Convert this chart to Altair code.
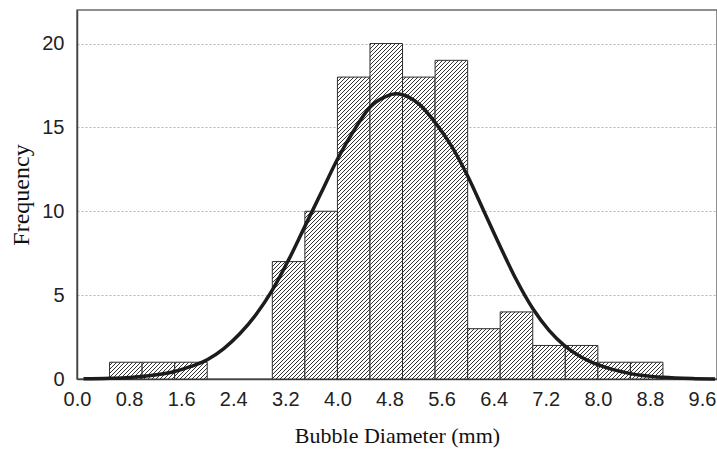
import altair as alt
import pandas as pd
import jinja2

# Histogram bins (mm) and frequencies
bin_start = [0.5, 1.0, 1.5, 3.0, 3.5, 4.0, 4.5, 5.0, 5.5, 6.0, 6.5, 7.0, 7.5, 8.0, 8.5]
bin_end = [1.0, 1.5, 2.0, 3.5, 4.0, 4.5, 5.0, 5.5, 6.0, 6.5, 7.0, 7.5, 8.0, 8.5, 9.0]
counts = [1, 1, 1, 7, 10, 18, 20, 18, 19, 3, 4, 2, 2, 1, 1]

# Fitted normal curve
curve_x = [0.1, 0.5, 0.75, 1.0, 1.25, 1.5, 1.75, 2.0, 2.25, 2.5, 2.75, 3.0, 3.25, 3.5,
           3.75, 4.0, 4.25, 4.5, 4.75, 4.9, 5.0, 5.25, 5.5, 5.75, 6.0, 6.25, 6.5, 6.75,
           7.0, 7.25, 7.5, 7.75, 8.0, 8.5, 9.0, 9.5, 9.8]
curve_y = [0.01, 0.04, 0.08, 0.15, 0.27, 0.45, 0.75, 1.15, 1.8, 2.7, 3.85, 5.3, 7.1, 9.1,
           11.1, 13.1, 14.8, 16.2, 16.85, 17.0, 16.95, 16.4, 15.3, 13.9, 12.1, 10.0, 7.9, 5.9,
           4.2, 2.9, 1.95, 1.3, 0.85, 0.32, 0.1, 0.02, 0.0]

x_ticks = [0.0, 0.8, 1.6, 2.4, 3.2, 4.0, 4.8, 5.6, 6.4, 7.2, 8.0, 8.8, 9.6]
y_ticks = [0, 5, 10, 15, 20]

bars_df = pd.DataFrame({"lo": bin_start, "hi": bin_end, "n": counts})
curve_df = pd.DataFrame({"x": curve_x, "y": curve_y})

xscale = alt.Scale(domain=[0, 9.83], nice=False, zero=False)
yscale = alt.Scale(domain=[0, 22], nice=False)

xaxis = alt.Axis(values=x_ticks, format=".1f", title="Bubble Diameter (mm)",
                 grid=False, ticks=False, labelPadding=10, titlePadding=16,
                 labelFlush=False, titleFontSize=22)
yaxis = alt.Axis(values=y_ticks, title="Frequency", grid=True, ticks=False,
                 labelPadding=13, titlePadding=8, labelFlush=False, titleFontSize=24)

bars = alt.Chart(bars_df).mark_rect(
    fill="url(#hatch)", stroke="#2e2e2e", strokeWidth=1
).encode(
    x=alt.X("lo:Q", scale=xscale, axis=xaxis),
    x2="hi:Q",
    y=alt.Y("n:Q", scale=yscale, axis=yaxis),
    y2=alt.datum(0),
)

curve = alt.Chart(curve_df).mark_line(
    color="#1c1c1c", strokeWidth=3.5, interpolate="monotone"
).encode(
    x=alt.X("x:Q", scale=xscale),
    y=alt.Y("y:Q", scale=yscale),
)

chart = alt.layer(bars, curve).properties(
    width=640, height=369,
    autosize=alt.AutoSizeParams(type="none"),
    padding={"left": 69, "top": 2, "right": 0, "bottom": 70},
    background="white",
).configure_view(
    stroke="#6a6a6a", strokeWidth=1.5
).configure_axis(
    labelFont="Liberation Sans", labelFontSize=20, labelColor="#222222",
    titleFont="Liberation Serif", titleFontWeight="normal",
    titleColor="#111111", domainColor="#444444", domainWidth=1.5,
    gridColor="#b5b5b5", gridDash=[2, 2], gridWidth=1,
)

TEMPLATE = jinja2.Template("""<!DOCTYPE html>
<html>
<head>
<style>
html { overflow: hidden; }
body { margin: 8px 0 0 8px; width: 760px; }
#{{ output_div }} { width: 740px; }
</style>
<script type="text/javascript" src="{{ base_url }}/vega@{{ vega_version }}"></script>
<script type="text/javascript" src="{{ base_url }}/vega-lite@{{ vegalite_version }}"></script>
<script type="text/javascript" src="{{ base_url }}/vega-embed@{{ vegaembed_version }}"></script>
</head>
<body>
<svg width="0" height="0" style="position:absolute">
<defs>
<pattern id="hatch" patternUnits="userSpaceOnUse" width="4" height="4">
<rect width="4" height="4" fill="white"/>
<path d="M-1,1 l2,-2 M0,4 l4,-4 M3,5 l2,-2" stroke="#333333" stroke-width="1"/>
</pattern>
</defs>
</svg>
<div id="{{ output_div }}"></div>
<script type="text/javascript">
var spec = {{ spec }};
var embedOpt = {{ embed_options }};
vegaEmbed("#{{ output_div }}", spec, embedOpt).catch(function(err) {
  document.getElementById("{{ output_div }}").innerHTML = String(err);
});
</script>
</body>
</html>
""")

chart.save("out.html", embed_options={"renderer": "svg", "actions": False}, template=TEMPLATE)
